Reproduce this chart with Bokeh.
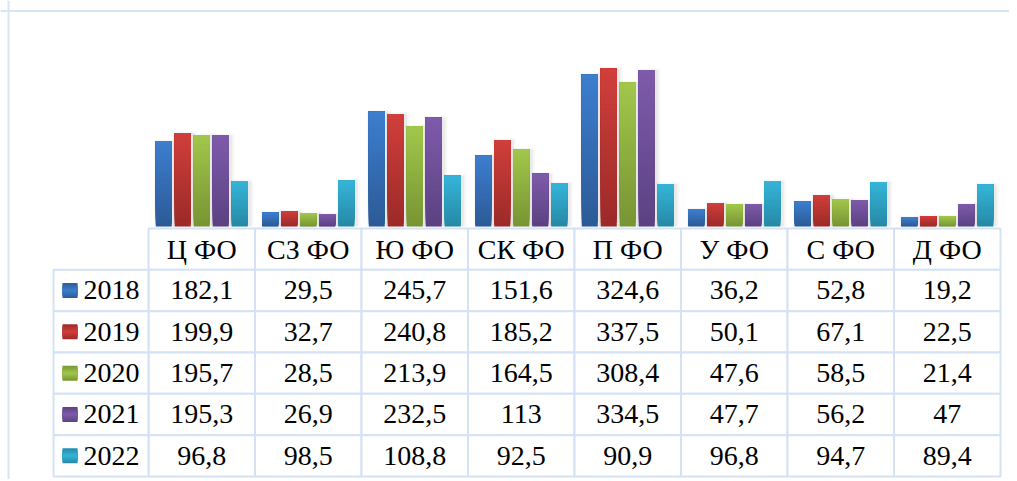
from bokeh.plotting import figure
from bokeh.models import Range1d, Span
from bokeh.embed import file_html
from bokeh.resources import INLINE
from bokeh.core.properties import value

# ---------------- data ----------------
categories = ["Ц ФО", "СЗ ФО", "Ю ФО", "СК ФО", "П ФО", "У ФО", "С ФО", "Д ФО"]
years = ["2018", "2019", "2020", "2021", "2022"]
v2018 = [182.1, 29.5, 245.7, 151.6, 324.6, 36.2, 52.8, 19.2]
v2019 = [199.9, 32.7, 240.8, 185.2, 337.5, 50.1, 67.1, 22.5]
v2020 = [195.7, 28.5, 213.9, 164.5, 308.4, 47.6, 58.5, 21.4]
v2021 = [195.3, 26.9, 232.5, 113, 334.5, 47.7, 56.2, 47]
v2022 = [96.8, 98.5, 108.8, 92.5, 90.9, 96.8, 94.7, 89.4]
series = [v2018, v2019, v2020, v2021, v2022]

# gradient colours (top, bottom) per year
top_colors = ["#3d7ecf", "#d03f3b", "#a2c74b", "#7e5bab", "#36b5d9"]
bottom_colors = ["#2c5a96", "#9b2a28", "#779433", "#5b4181", "#2688a5"]

# ---------------- layout constants (canvas px) ----------------
W, H = 1009, 479
TBL_X0 = 148.0      # left edge of first category column
COL_W = 106.5       # category column width
LEG_X0 = 53.0       # left edge of legend column
BASE_Y = 226.0      # bar baseline
PX_PER_UNIT = 0.4675
HDR_Y0 = 228.0      # top of header row
ROW_H = 41.33
BAR_W = 16.0
BAR_STEP = 19.0
GRID_COLOR = "#d5e2f3"
FONT = "Liberation Serif"
FONT_SIZE = "28px"


def hex2rgb(h):
    h = h.lstrip("#")
    return tuple(int(h[i:i + 2], 16) for i in (0, 2, 4))


def mix(c1, c2, t):
    a, b = hex2rgb(c1), hex2rgb(c2)
    return "#%02x%02x%02x" % tuple(round(a[k] + (b[k] - a[k]) * t) for k in range(3))


def fmt(v):
    return ("%g" % v).replace(".", ",")


x_range = Range1d(start=-TBL_X0 / COL_W, end=(W - TBL_X0) / COL_W)
y_range = Range1d(start=-(H - BASE_Y) / PX_PER_UNIT, end=BASE_Y / PX_PER_UNIT)

p = figure(width=W, height=H, x_range=x_range, y_range=y_range,
           toolbar_location=None, output_backend="svg",
           x_axis_location=None, y_axis_location=None,
           min_border=0, outline_line_color=None,
           background_fill_color="white", border_fill_color="white")
p.grid.visible = False
p.extra_y_ranges = {"tbl": Range1d(start=(H - HDR_Y0) / ROW_H, end=-HDR_Y0 / ROW_H)}

# ---------------- bars (vertical gradient built from overlapping slices) ----------------
N = 40
sx, sb, st, sc = [], [], [], []
shx, sht = [], []
for j, vals in enumerate(series):
    for i, v in enumerate(vals):
        xc = i + 0.5 + (j - 2) * BAR_STEP / COL_W
        shx.append(xc + 2.0 / COL_W)
        sht.append(v)
        for k in range(N):
            sx.append(xc)
            sb.append(v * k / N)
            st.append(v)
            sc.append(mix(bottom_colors[j], top_colors[j], (k + 0.5) / N))

# soft shadow
p.vbar(x=shx, top=[t + 1.5 / PX_PER_UNIT for t in sht], bottom=0, width=23 / COL_W,
       fill_color="black", fill_alpha=0.03, line_color=None)
p.vbar(x=shx, top=sht, bottom=0, width=19 / COL_W,
       fill_color="black", fill_alpha=0.05, line_color=None)
p.vbar(x=sx, bottom=sb, top=st, width=BAR_W / COL_W, fill_color=sc, line_color=None)

# ---------------- data table ----------------
# header cells
p.rect(x=[i + 0.5 for i in range(len(categories))], y=[0.5] * len(categories),
       width=1, height=1, y_range_name="tbl",
       fill_color="white", line_color=GRID_COLOR, line_width=2)
# value cells
cx, cy = [], []
for r in range(len(years)):
    for i in range(len(categories)):
        cx.append(i + 0.5)
        cy.append(r + 1.5)
p.rect(x=cx, y=cy, width=1, height=1, y_range_name="tbl",
       fill_color="white", line_color=GRID_COLOR, line_width=2)
# legend cells
leg_w = (TBL_X0 - LEG_X0) / COL_W
p.rect(x=[-leg_w / 2] * len(years), y=[r + 1.5 for r in range(len(years))],
       width=leg_w, height=1, y_range_name="tbl",
       fill_color="white", line_color=GRID_COLOR, line_width=2)

# header texts
p.text(x=[i + 0.5 for i in range(len(categories))], y=[0.5] * len(categories),
       text=categories, y_range_name="tbl", text_font=value(FONT),
       text_font_size=FONT_SIZE, text_align="center", text_baseline="middle",
       text_color="black")
# value texts
tx, ty, tt = [], [], []
for r, vals in enumerate(series):
    for i, v in enumerate(vals):
        tx.append(i + 0.5)
        ty.append(r + 1.5)
        tt.append(fmt(v))
p.text(x=tx, y=ty, text=tt, y_range_name="tbl", text_font=value(FONT),
       text_font_size=FONT_SIZE, text_align="center", text_baseline="middle",
       text_color="black")

# legend keys (small gradient squares)
sq_x = (69.5 - TBL_X0) / COL_W
for j in range(len(years)):
    for k in range(5):
        p.rect(x=[sq_x], y=[j + 1.5], width=15, height=15 - 3 * k,
               width_units="screen", height_units="screen", y_range_name="tbl",
               fill_color=mix(bottom_colors[j], top_colors[j], (k + 0.5) / 5),
               line_color=None)
p.text(x=[(83 - TBL_X0) / COL_W] * len(years), y=[r + 1.5 for r in range(len(years))],
       text=years, y_range_name="tbl", text_font=value(FONT),
       text_font_size=FONT_SIZE, text_align="left", text_baseline="middle",
       text_color="black")

# outer chart border (left and top edges visible)
p.add_layout(Span(location=x_range.start + 8.0 / COL_W, dimension="height",
                  line_color="#d7e5f6", line_width=2))
p.add_layout(Span(location=y_range.end - 10.5 / PX_PER_UNIT, dimension="width",
                  line_color="#d7e5f6", line_width=2))

open("out.html", "w").write(file_html(p, INLINE))
